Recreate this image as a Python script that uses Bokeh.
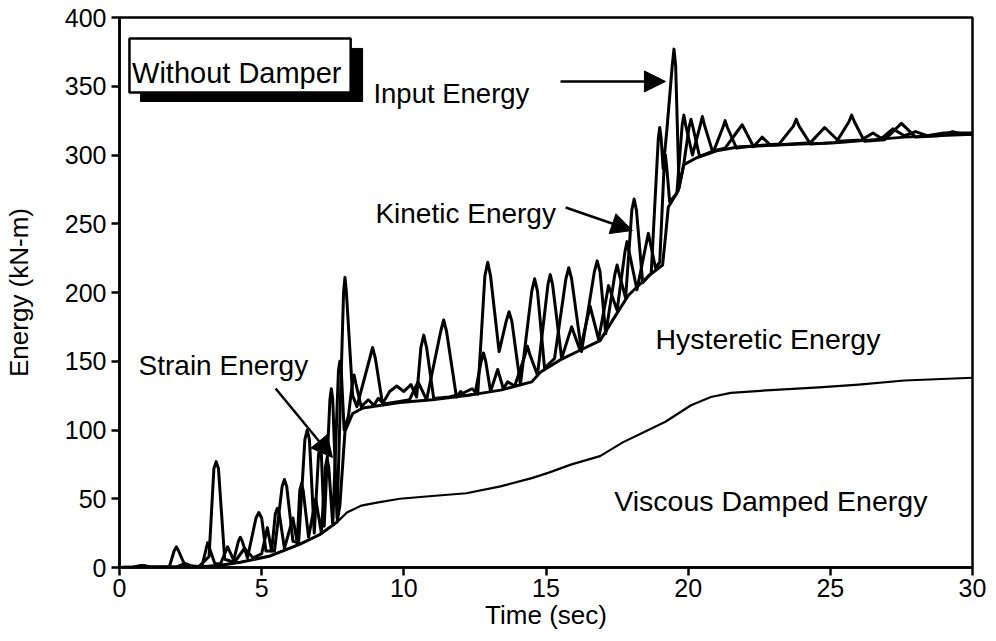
from bokeh.plotting import figure
from bokeh.models import Range1d, Label, Arrow, NormalHead, BoxAnnotation, FixedTicker
from bokeh.embed import file_html
from bokeh.resources import INLINE

# ---------------- data ----------------
x_ticks = [0, 5, 10, 15, 20, 25, 30]
y_ticks = [0, 50, 100, 150, 200, 250, 300, 350, 400]

# Viscous damped energy (lowest curve)
t_visc = [0, 2, 3, 3.5, 4.25, 5.3, 6.35, 7.05, 7.65, 8.0, 8.5, 9.0, 9.86, 11.0, 12.2,
          13.4, 14.5, 15.1, 15.9, 16.9, 17.7, 18.4, 19.2, 20.1, 20.8, 21.5, 22.9, 24.6,
          26.0, 27.6, 30]
e_visc = [0, 0.3, 0.8, 1.5, 3.8, 8.4, 17, 24, 33, 40, 45, 47, 50, 52, 54,
          59, 65, 69, 75, 81, 91, 98, 106, 118, 124, 127, 129, 131,
          133, 136, 138]

# Hysteretic energy (lower envelope of the upper bundle)
t_hyst = [0, 1, 2, 3, 3.5, 4.25, 5.3, 6.35, 7.05, 7.65, 7.75, 7.85, 7.93, 8.2, 8.56,
          9.86, 11.0, 12.2, 13.4, 14.5, 14.8, 15.5, 16.2, 16.9, 17.5, 17.9, 18.6, 19.1,
          19.2, 19.3, 19.65, 19.85, 20.3, 21.0, 21.8, 22.9, 25.3, 27.6, 30]
e_hyst = [0, 0, 0.3, 0.8, 1.5, 3.8, 8.4, 17, 24, 33, 45, 75, 99, 112, 116,
          120, 122, 125, 129, 135, 142, 151, 158, 165, 185, 198, 212, 220,
          240, 262, 274, 293, 298, 303, 306, 307, 309, 313, 315]

# Strain energy curve (smaller oscillations)
t_strain = [0, 0.5, 0.8, 1.1, 2.0, 2.3, 2.6, 2.9, 3.1, 3.35,
            3.55, 3.8, 4.05, 4.4, 4.7, 5.0, 5.2, 5.35, 5.48, 5.55,
            5.62, 5.8, 6.1, 6.25, 6.34, 6.4, 6.46, 6.65, 6.9, 7.1,
            7.24, 7.3, 7.36, 7.5, 7.7, 7.75, 7.8, 7.9, 8.05, 8.19,
            8.25, 8.31, 8.5, 8.75, 8.95, 9.1, 9.3, 9.9, 10.2, 10.5,
            10.8, 11.3, 11.4, 11.5, 11.85, 12.0, 12.15, 12.5, 12.72, 12.8,
            12.88, 13.05, 13.3, 13.5, 13.65, 13.9, 14.27, 14.35, 14.43, 14.7,
            15.07, 15.15, 15.23, 15.55, 15.9, 16.2, 16.55, 16.85, 17.2, 17.5,
            17.78, 17.85, 17.92, 18.2, 18.53, 18.6, 18.67, 18.85, 19.0, 19.15,
            19.2, 19.25, 19.35, 19.6, 19.79, 19.85, 19.91, 20.15, 20.43, 20.5,
            20.57, 20.85, 21.3, 21.9, 22.3, 22.6, 22.9, 23.6, 24.3, 24.8,
            25.3, 26.1, 26.5, 26.8, 27.2, 27.6, 28.0, 28.4, 29.0, 29.5,
            30]
e_strain = [0, 0.3, 1.5, 0.3, 0.3, 3, 0.6, 1, 18, 3,
            2.5, 15, 4, 14, 7, 10, 29, 12, 39, 43,
            39, 14, 36, 18, 56, 61, 56, 22, 50, 25,
            73, 79, 73, 31, 143, 150, 143, 100, 110, 134,
            140, 134, 117, 122, 118, 123, 119, 121, 122, 135,
            122, 172, 180, 172, 124, 128, 125, 126, 150, 156,
            150, 128, 144, 130, 135, 132, 155, 161, 155, 140,
            206, 213, 206, 152, 175, 158, 190, 166, 205, 187,
            230, 237, 230, 202, 236, 243, 236, 218, 222, 290,
            300, 290, 266, 272, 322, 329, 322, 300, 322, 328,
            322, 303, 305, 322, 306, 313, 307, 308, 309, 320,
            310, 311, 316, 312, 319, 314, 317, 314, 316, 316,
            316]

# Input energy curve (tallest peaks; kinetic energy on top)
t_input = [0, 0.5, 0.8, 1.1, 1.75, 1.92, 2.0, 2.08, 2.3, 2.8,
           3.15, 3.32, 3.4, 3.48, 3.7, 4.0, 4.18, 4.25, 4.32, 4.5,
           4.8, 4.9, 5.0, 5.15, 5.45, 5.72, 5.8, 5.88, 6.1, 6.3,
           6.52, 6.6, 6.68, 6.85, 7.0, 7.05, 7.1, 7.2, 7.4, 7.45,
           7.5, 7.65, 7.88, 7.93, 7.98, 8.2, 8.35, 8.8, 8.9, 9.0,
           9.25, 9.5, 9.75, 10.0, 10.25, 10.45, 10.6, 10.7, 10.8, 11.05,
           11.6, 12.0, 12.4, 12.6, 12.85, 12.95, 13.05, 13.35, 13.6, 13.7,
           13.8, 14.1, 14.5, 14.6, 14.7, 14.95, 15.3, 15.7, 15.8, 15.9,
           16.25, 16.7, 16.8, 16.9, 17.1, 17.42, 17.5, 17.58, 17.8, 18.02,
           18.1, 18.18, 18.4, 18.7, 18.95, 19.0, 19.05, 19.12, 19.25, 19.44,
           19.5, 19.56, 19.68, 19.85, 20.03, 20.1, 20.17, 20.4, 20.9, 21.22,
           21.3, 21.38, 21.7, 22.5, 23.2, 23.7, 23.8, 23.9, 24.3, 25.2,
           25.65, 25.75, 25.85, 26.2, 26.9, 27.5, 28.0, 28.8, 29.3, 29.7,
           30]
e_input = [0, 0.3, 1.5, 0.3, 0.3, 12, 15, 12, 1.5, 0.8,
           8, 72, 77, 72, 6, 4, 19, 22, 19, 7,
           36, 40, 36, 12, 12, 59, 64, 59, 19, 18,
           93, 100, 93, 25, 82, 88, 82, 30, 122, 130,
           122, 36, 200, 211, 200, 125, 117, 152, 160, 152,
           119, 128, 132, 128, 133, 124, 160, 169, 160, 123,
           124, 126, 130, 126, 212, 222, 212, 157, 179, 186,
           179, 133, 201, 210, 201, 145, 152, 210, 218, 210,
           157, 215, 223, 215, 170, 213, 220, 213, 196, 260,
           268, 260, 207, 214, 312, 320, 312, 290, 318, 365,
           377, 365, 276, 294, 320, 326, 320, 299, 303, 320,
           325, 320, 305, 307, 308, 321, 326, 321, 308, 309,
           324, 329, 324, 310, 311, 323, 313, 314, 317, 315,
           315]

FONT = "Liberation Sans"

p = figure(width=990, height=638, output_backend="svg", toolbar_location=None,
           x_range=Range1d(0, 30), y_range=Range1d(0, 400),
           min_border_left=119, min_border_right=18, min_border_top=17, min_border_bottom=71,
           x_axis_label="Time (sec)", y_axis_label="Energy (kN-m)")

p.background_fill_color = "white"
p.border_fill_color = "white"
p.grid.visible = False
p.outline_line_color = "black"
p.outline_line_width = 2.5

p.xaxis.ticker = FixedTicker(ticks=x_ticks)
p.yaxis.ticker = FixedTicker(ticks=y_ticks)
for ax in (p.xaxis, p.yaxis):
    ax.axis_line_width = 2.5
    ax.axis_line_color = "black"
    ax.major_tick_line_width = 2.5
    ax.major_tick_line_color = "black"
    ax.major_tick_in = 0
    ax.major_tick_out = 8
    ax.minor_tick_in = 0
    ax.minor_tick_out = 0
    ax.major_label_text_font = FONT
    ax.major_label_text_font_size = "25px"
    ax.major_label_text_color = "black"
    ax.axis_label_text_font = FONT
    ax.axis_label_text_font_size = "26px"
    ax.axis_label_text_font_style = "normal"
    ax.axis_label_text_color = "black"
p.xaxis.major_label_standoff = 3
p.xaxis.axis_label_standoff = 0
p.yaxis.major_label_standoff = 5
p.yaxis.axis_label_standoff = 28

widths = (2.2, 3.0, 3.0, 3.0)
for (xs, ys), lw in zip(((t_visc, e_visc), (t_hyst, e_hyst), (t_strain, e_strain),
                         (t_input, e_input)), widths):
    p.line(xs, ys, line_color="black", line_width=lw, line_join="round")

# "Without Damper" box with drop shadow
p.add_layout(BoxAnnotation(left=0.74, right=8.55, bottom=338.9, top=377.5,
                           fill_color="black", fill_alpha=1.0,
                           line_color="black", line_alpha=1.0))
p.add_layout(BoxAnnotation(left=0.35, right=8.13, bottom=345.5, top=384.7,
                           fill_color="white", fill_alpha=1.0, line_color="black",
                           line_alpha=1.0, line_width=2.5))

labels = [
    ("Without Damper", 0.44, 360.0, "29px"),
    ("Input Energy", 8.93, 345.0, "27.5px"),
    ("Kinetic Energy", 9.0, 257.5, "28px"),
    ("Strain Energy", 0.67, 146.9, "28px"),
    ("Hysteretic Energy", 18.85, 166.5, "28.5px"),
    ("Viscous Damped Energy", 17.4, 48.7, "28.5px"),
]
for txt, x, y, fs in labels:
    p.add_layout(Label(x=x, y=y, text=txt, text_font=FONT, text_font_size=fs,
                       text_color="black", text_align="left", text_baseline="alphabetic"))

arrows = [
    (15.51, 353.5, 19.2, 353.5),
    (15.69, 261.8, 18.04, 245.1),
    (5.49, 130.2, 7.49, 80.0),
]
for x0, y0, x1, y1 in arrows:
    p.add_layout(Arrow(x_start=x0, y_start=y0, x_end=x1, y_end=y1, line_width=2.5,
                       line_color="black",
                       end=NormalHead(size=21, fill_color="black", line_color="black")))

open("out.html", "w").write(file_html(p, INLINE))
